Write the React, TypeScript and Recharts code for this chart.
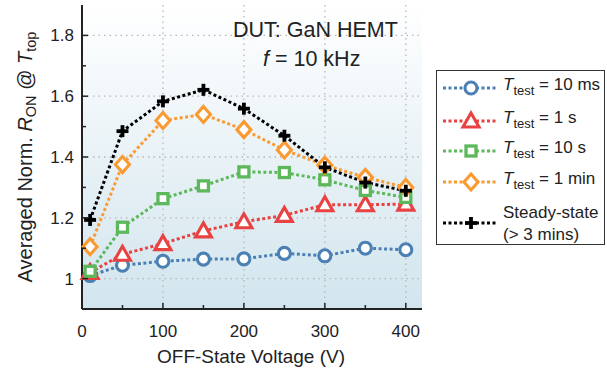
import { LineChart, Line, XAxis, YAxis, CartesianGrid, ReferenceLine, Legend } from 'recharts';

const VOLTAGES = [10, 50, 100, 150, 200, 250, 300, 350, 400];
const T_10MS = [1.01, 1.044, 1.057, 1.064, 1.065, 1.083, 1.075, 1.1, 1.095];
const T_1S = [1.02, 1.08, 1.115, 1.157, 1.187, 1.208, 1.243, 1.243, 1.245];
const T_10S = [1.024, 1.169, 1.263, 1.305, 1.351, 1.349, 1.325, 1.29, 1.267];
const T_1MIN = [1.105, 1.375, 1.52, 1.54, 1.49, 1.423, 1.373, 1.333, 1.3];
const STEADY = [1.193, 1.485, 1.583, 1.621, 1.559, 1.47, 1.366, 1.316, 1.289];

const X_TICKS = [0, 50, 100, 150, 200, 250, 300, 350, 400];
const Y_TICKS = [1, 1.1, 1.2, 1.3, 1.4, 1.5, 1.6, 1.7, 1.8];
const X_GRID = [100, 200, 300, 400];
const Y_GRID = [1, 1.2, 1.4, 1.6, 1.8];

const data = VOLTAGES.map((v, i) => ({
  v,
  t10ms: T_10MS[i],
  t1s: T_1S[i],
  t10s: T_10S[i],
  t1min: T_1MIN[i],
  steady: STEADY[i],
}));

const FONT = '"Liberation Sans", Arial, sans-serif';
const INK = '#222';

type Shape = 'circle' | 'triangle' | 'square' | 'diamond' | 'plus';

const SERIES: { key: string; color: string; shape: Shape; label: string }[] = [
  { key: 't10ms', color: '#4a80b4', shape: 'circle', label: '= 10 ms' },
  { key: 't1s', color: '#e84242', shape: 'triangle', label: '= 1 s' },
  { key: 't10s', color: '#5cb85a', shape: 'square', label: '= 10 s' },
  { key: 't1min', color: '#fb9a30', shape: 'diamond', label: '= 1 min' },
  { key: 'steady', color: '#000000', shape: 'plus', label: 'Steady-state' },
];

function Marker({ cx, cy, shape, color }: { cx: number; cy: number; shape: Shape; color: string }) {
  const sw = 3.1;
  if (shape === 'circle') return <circle cx={cx} cy={cy} r={6} fill="#fff" stroke={color} strokeWidth={sw} />;
  if (shape === 'triangle')
    return (
      <polygon
        points={`${cx},${cy - 8} ${cx - 8},${cy + 6} ${cx + 8},${cy + 6}`}
        fill="#fff"
        stroke={color}
        strokeWidth={sw}
        strokeLinejoin="miter"
      />
    );
  if (shape === 'square') return <rect x={cx - 5} y={cy - 5} width={10} height={10} fill="#fff" stroke={color} strokeWidth={3.3} />;
  if (shape === 'diamond')
    return (
      <polygon
        points={`${cx},${cy - 8} ${cx + 7},${cy} ${cx},${cy + 8} ${cx - 7},${cy}`}
        fill="#fff"
        stroke={color}
        strokeWidth={sw}
      />
    );
  return (
    <g stroke={color} strokeWidth={3.8}>
      <line x1={cx - 6} y1={cy} x2={cx + 6} y2={cy} />
      <line x1={cx} y1={cy - 6} x2={cx} y2={cy + 6} />
    </g>
  );
}

const XTickBottom = (props: any) => {
  const { x, y, payload } = props;
  const major = payload.value % 100 === 0;
  return (
    <g>
      <line x1={x} y1={y} x2={x} y2={y - (major ? 6 : 4)} stroke={INK} strokeWidth={1.5} />
      {major && (
        <text x={x} y={y + 28} textAnchor="middle" fontSize={17} fill={INK} fontFamily={FONT}>
          {payload.value}
        </text>
      )}
    </g>
  );
};

const XTickTop = (props: any) => {
  const { x, y, payload } = props;
  const major = payload.value % 100 === 0;
  return <line x1={x} y1={y} x2={x} y2={y + (major ? 6 : 4)} stroke={INK} strokeWidth={1.5} />;
};

const YTickLeft = (props: any) => {
  const { x, y, payload } = props;
  const v = payload.value;
  const major = Math.round(v * 10) % 2 === 0;
  return (
    <g>
      <line x1={x} y1={y} x2={x + (major ? 6 : 4)} y2={y} stroke={INK} strokeWidth={1.5} />
      {major && (
        <text x={x - 8} y={y + 6} textAnchor="end" fontSize={17} fill={INK} fontFamily={FONT}>
          {v === 1 ? '1' : v.toFixed(1)}
        </text>
      )}
    </g>
  );
};

const YTickRight = (props: any) => {
  const { x, y, payload } = props;
  const major = Math.round(payload.value * 10) % 2 === 0;
  return <line x1={x} y1={y} x2={x - (major ? 6 : 4)} y2={y} stroke={INK} strokeWidth={1.5} />;
};

const YLabel = () => (
  <text
    transform="translate(27,157) rotate(-90)"
    textAnchor="middle"
    fontSize={20}
    fill={INK}
    fontFamily={FONT}
    dominantBaseline="middle"
  >
    <tspan>Averaged Norm. </tspan>
    <tspan fontStyle="italic">R</tspan>
    <tspan fontSize={14.5} dy={5}>ON</tspan>
    <tspan dy={-5}> @ </tspan>
    <tspan fontStyle="italic">T</tspan>
    <tspan fontSize={14.5} dy={5}>top</tspan>
  </text>
);

const XLabel = () => (
  <text x={251} y={363} textAnchor="middle" fontSize={19} fill={INK} fontFamily={FONT}>
    OFF-State Voltage (V)
  </text>
);

const LegendBox = () => {
  const rows = [17, 50, 80, 111, 152];
  return (
    <div
      style={{
        position: 'relative',
        width: 169,
        height: 175,
        border: '1.5px solid #333',
        boxSizing: 'border-box',
        background: '#fff',
        fontFamily: FONT,
        color: INK,
      }}
    >
      {SERIES.map((s, i) => (
        <div key={s.key} style={{ position: 'absolute', left: 0, top: rows[i] - 11, height: 22, width: 167 }}>
          <svg width={60} height={22} style={{ position: 'absolute', left: 4, top: 0 }}>
            <line x1={2} y1={11} x2={56} y2={11} stroke={s.color} strokeWidth={3} strokeDasharray="3 2.5" />
            <Marker cx={30} cy={11} shape={s.shape} color={s.color} />
          </svg>
          {s.key === 'steady' ? (
            <div style={{ position: 'absolute', left: 66, top: -10, fontSize: 17, lineHeight: '22px', whiteSpace: 'nowrap' }}>
              Steady-state
              <br />
              (&gt; 3 mins)
            </div>
          ) : (
            <div style={{ position: 'absolute', left: 66, top: -3, fontSize: 17, lineHeight: '22px', whiteSpace: 'nowrap' }}>
              <i>T</i>
              <sub style={{ fontSize: 13, verticalAlign: '-5px' }}>test</sub> {s.label}
            </div>
          )}
        </div>
      ))}
    </div>
  );
};

export default function App() {
  return (
    <div style={{ position: 'absolute', left: 0, top: 0, width: 607, height: 369, background: '#fff', fontFamily: FONT }}>
      <LineChart width={607} height={369} data={data} margin={{ top: 5, right: 185, bottom: 0, left: 0 }}>
        <defs>
          <linearGradient id="bg" x1="0" y1="0" x2="0" y2="1">
            <stop offset="0%" stopColor="#ffffff" />
            <stop offset="100%" stopColor="#d2e5ee" />
          </linearGradient>
        </defs>
        <CartesianGrid horizontal={false} vertical={false} fill="url(#bg)" />
        <XAxis
          xAxisId={0}
          dataKey="v"
          type="number"
          domain={[0, 420]}
          ticks={X_TICKS}
          height={60}
          tickSize={0}
          tickMargin={0}
          tick={<XTickBottom />}
          axisLine={{ stroke: INK, strokeWidth: 2 }}
          tickLine={false}
          interval={0}
          label={{ content: <XLabel /> }}
        />
        <XAxis
          xAxisId="top"
          orientation="top"
          type="number"
          domain={[0, 420]}
          ticks={X_TICKS}
          height={0}
          tickSize={0}
          tickMargin={0}
          tick={<XTickTop />}
          axisLine={{ stroke: INK, strokeWidth: 1.5 }}
          tickLine={false}
          interval={0}
        />
        <YAxis
          yAxisId={0}
          type="number"
          domain={[0.9, 1.9]}
          ticks={Y_TICKS}
          width={82}
          tickSize={0}
          tickMargin={0}
          tick={<YTickLeft />}
          axisLine={{ stroke: INK, strokeWidth: 2 }}
          tickLine={false}
          interval={0}
          label={{ content: <YLabel /> }}
        />
        <YAxis
          yAxisId="right"
          orientation="right"
          type="number"
          domain={[0.9, 1.9]}
          ticks={Y_TICKS}
          width={0}
          tickSize={0}
          tickMargin={0}
          tick={<YTickRight />}
          axisLine={{ stroke: INK, strokeWidth: 1.5 }}
          tickLine={false}
          interval={0}
        />
        {X_GRID.map((g) => (
          <ReferenceLine key={'x' + g} x={g} stroke="#b8b8b8" strokeWidth={1.3} strokeDasharray="1.5 4" />
        ))}
        {Y_GRID.map((g) => (
          <ReferenceLine key={'y' + g} y={g} stroke="#b8b8b8" strokeWidth={1.3} strokeDasharray="1.5 4" />
        ))}
        {SERIES.map((s) => (
          <Line
            key={s.key}
            dataKey={s.key}
            stroke={s.color}
            strokeWidth={3}
            strokeDasharray="3 2.5"
            isAnimationActive={false}
            dot={(p: any) => <Marker key={s.key + p.index} cx={p.cx} cy={p.cy} shape={s.shape} color={s.color} />}
          />
        ))}
        <Legend
          layout="horizontal"
          align="center"
          verticalAlign="middle"
          content={<LegendBox />}
          wrapperStyle={{ position: 'absolute', left: 436, top: 70, width: 169, height: 175 }}
        />
      </LineChart>
      <div style={{ position: 'absolute', left: 233, top: 17, fontSize: 21.5, color: INK, whiteSpace: 'nowrap', lineHeight: '26px' }}>
        DUT: GaN HEMT
      </div>
      <div style={{ position: 'absolute', left: 263, top: 46, fontSize: 21.5, color: INK, whiteSpace: 'nowrap', lineHeight: '26px' }}>
        <i>f</i> = 10 kHz
      </div>
    </div>
  );
}
